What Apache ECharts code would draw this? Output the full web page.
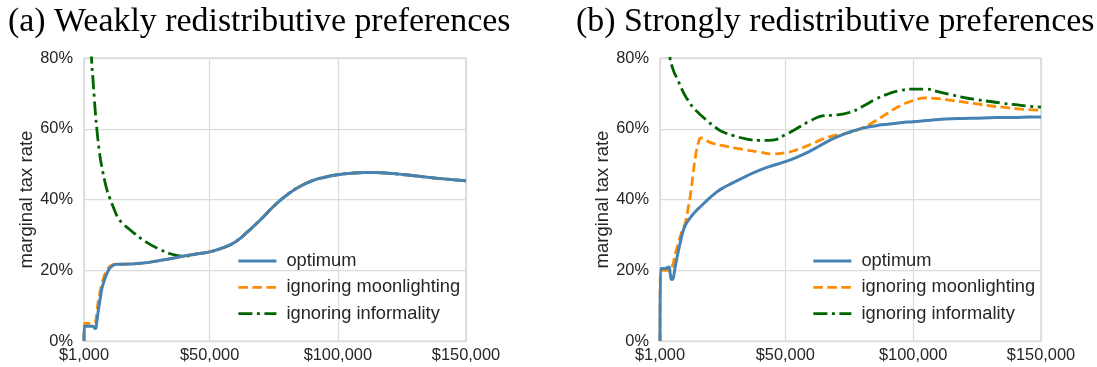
<!DOCTYPE html>
<html>
<head>
<meta charset="utf-8">
<script src="https://cdn.jsdelivr.net/npm/echarts@6/dist/echarts.min.js"></script>
<style>
html,body{margin:0;padding:0;background:#fff;}
#chart{width:1097px;height:367px;}
</style>
</head>
<body>
<div id="chart"></div>
<script>
// ---------- data ----------
const titles = ['(a) Weakly redistributive preferences', '(b) Strongly redistributive preferences'];
const seriesNames = ['optimum', 'ignoring moonlighting', 'ignoring informality'];
const xTickValues = [1000, 50000, 100000, 150000];
const yTickValues = [0, 20, 40, 60, 80];

// Panel (a)
const incomeA = [1000, 1200, 2000, 3000, 4000, 4500, 5000, 5500, 6000, 6500, 7000, 7500, 8000, 9000, 10000,
  11000, 12000, 13000, 14000, 16000, 18000, 20000, 25000, 30000, 35000, 40000, 45000, 50000, 55000, 60000,
  65000, 70000, 75000, 80000, 85000, 90000, 95000, 100000, 105000, 110000, 115000, 120000, 125000, 130000,
  135000, 140000, 145000, 150000];
const optimumA = [0, 4.2, 4.2, 4.2, 4.2, 4.2, 3.8, 3.5, 5.5, 8.2, 10.5, 12.8, 14.9, 17.3, 19.2,
  20.5, 21.2, 21.6, 21.7, 21.7, 21.75, 21.8, 22.1, 22.7, 23.3, 24.0, 24.6, 25.2, 26.3, 28.0,
  31.0, 34.4, 38.1, 41.2, 43.6, 45.3, 46.3, 47.0, 47.4, 47.6, 47.6, 47.4, 47.1, 46.7,
  46.3, 45.9, 45.6, 45.3];
const moonlightingA = [0, 5.0, 5.0, 5.0, 5.0, 5.0, 5.0, 5.5, 8.0, 11.0, 13.0, 14.8, 16.3, 18.6, 20.2,
  21.0, 21.5, 21.7, 21.7, 21.7, 21.75, 21.8, 22.1, 22.7, 23.3, 24.0, 24.6, 25.2, 26.3, 28.0,
  31.0, 34.4, 38.1, 41.2, 43.6, 45.3, 46.3, 47.0, 47.4, 47.6, 47.6, 47.4, 47.1, 46.7,
  46.3, 45.9, 45.6, 45.3];
const informalityA = [200, 180, 130, 96, 79, 74, 68.8, 64, 60, 56.5, 53.5, 51, 49, 45.5, 42.6,
  40.5, 38.6, 36.8, 35.2, 33.2, 32.0, 30.8, 28.1, 26.1, 24.6, 24.0, 24.6, 25.2, 26.3, 28.0,
  31.0, 34.4, 38.1, 41.2, 43.6, 45.3, 46.3, 47.0, 47.4, 47.6, 47.6, 47.4, 47.1, 46.7,
  46.3, 45.9, 45.6, 45.3];

// Panel (b)
const incomeB = [1000, 1200, 2000, 3000, 4000, 4500, 5000, 5500, 6000, 6500, 7000, 7500, 8000, 9000, 10000,
  11000, 12000, 13000, 14000, 15000, 16000, 17000, 18000, 20000, 22500, 25000, 30000, 35000, 40000, 45000,
  50000, 55000, 60000, 65000, 70000, 75000, 80000, 85000, 90000, 95000, 100000, 105000, 110000, 115000,
  120000, 125000, 130000, 135000, 140000, 145000, 150000];
const optimumB = [0, 20.5, 20.5, 20.5, 20.8, 20.9, 19.0, 17.4, 17.5, 19.0, 21.2, 23.0, 24.8, 28.1, 31.0,
  32.8, 34.0, 35.0, 35.9, 36.7, 37.4, 38.1, 38.8, 40.2, 41.7, 43.0, 44.9, 46.7, 48.3, 49.6,
  50.7, 52.1, 53.8, 55.8, 57.6, 59.0, 60.1, 60.8, 61.3, 61.7, 62.0, 62.3, 62.6, 62.8,
  62.9, 63.0, 63.1, 63.2, 63.2, 63.3, 63.3];
const moonlightingB = [0, 20, 20, 20, 20, 20, 20, 20.3, 21.5, 23.0, 24.7, 26.0, 27.3, 29.7, 31.8,
  33.6, 37.5, 41.8, 47.5, 52.7, 56.0, 57.4, 57.3, 56.3, 55.7, 55.3, 54.6, 54.0, 53.4, 52.9,
  53.2, 54.2, 55.6, 57.2, 58.2, 58.9, 60.2, 62.1, 64.4, 66.5, 68.0, 68.7, 68.5, 68.0,
  67.5, 67.0, 66.5, 66.1, 65.7, 65.4, 65.2];
const informalityB = [100, 98, 93, 88, 83.5, 81.5, 79.6, 78.2, 77.0, 76.0, 75.2, 74.5, 73.8, 72.0, 70.5,
  69.1, 68.0, 66.9, 66.0, 65.2, 64.5, 63.8, 63.2, 61.9, 60.5, 59.3, 58.0, 57.1, 56.7, 56.8,
  58.3, 60.3, 62.3, 63.7, 63.9, 64.6, 66.2, 68.2, 69.8, 70.8, 71.2, 71.2, 70.4, 69.6,
  68.8, 68.2, 67.7, 67.2, 66.8, 66.4, 66.1];

// ---------- chart ----------
const colors = {optimum: '#4682b4', moon: '#ff8c00', inform: '#006400'};
const tickFont = 'Liberation Sans, Arial, sans-serif';
const textColor = '#262626';
const gridColor = '#dcdcdc';

function pairs(xs, ys) { return xs.map((x, i) => [x, ys[i]]); }
function fmtMoney(v) { return '$' + Math.round(v).toLocaleString('en-US'); }

const panels = [
  {income: incomeA, opt: optimumA, moon: moonlightingA, inf: informalityA, left: 84, width: 382},
  {income: incomeB, opt: optimumB, moon: moonlightingB, inf: informalityB, left: 660, width: 381}
];

const option = {
  animation: false,
  backgroundColor: '#ffffff',
  grid: panels.map(p => ({
    left: p.left, top: 58, width: p.width, height: 283,
    show: true, borderColor: '#cccccc', borderWidth: 1.25, backgroundColor: 'transparent'
  })),
  xAxis: panels.map((p, i) => ({
    type: 'value', gridIndex: i, min: 1000, max: 150000,
    axisLine: {show: false},
    axisTick: {show: false, customValues: xTickValues},
    splitLine: {show: true, customValues: xTickValues, lineStyle: {color: gridColor, width: 1.25}},
    axisLabel: {
      customValues: xTickValues, formatter: fmtMoney, fontSize: 16.4, color: textColor,
      fontFamily: tickFont, margin: 6, showMinLabel: true, showMaxLabel: true, hideOverlap: false
    }
  })),
  yAxis: panels.map((p, i) => ({
    type: 'value', gridIndex: i, min: 0, max: 80, interval: 20,
    axisLine: {show: false}, axisTick: {show: false},
    splitLine: {show: true, lineStyle: {color: gridColor, width: 1.25}},
    axisLabel: {formatter: '{value}%', fontSize: 16.4, color: textColor, fontFamily: tickFont, margin: 11},
    name: 'marginal tax rate', nameLocation: 'middle', nameGap: 43,
    nameTextStyle: {fontSize: 18.5, color: textColor, fontFamily: tickFont}
  })),
  legend: panels.map((p, i) => ({
    orient: 'vertical', left: i === 0 ? 232 : 807, top: 247,
    itemWidth: 38, itemHeight: 14, itemGap: 8.3,
    data: seriesNames,
    itemStyle: {opacity: 0},
    lineStyle: {width: 2.8},
    textStyle: {fontSize: 18.3, color: textColor, fontFamily: tickFont, padding: [0, 0, 0, 5], lineHeight: 18}
  })),
  graphic: titles.map((t, i) => ({
    type: 'text', x: i === 0 ? 8 : 576, y: 22.5,
    style: {text: t, font: '33.9px "Liberation Serif", "Times New Roman", serif', fill: '#000000',
      verticalAlign: 'middle', align: 'left'}
  })),
  series: []
};

panels.forEach((p, i) => {
  const common = {type: 'line', xAxisIndex: i, yAxisIndex: i, symbol: 'none', smooth: 0.5, clip: true};
  option.series.push(Object.assign({}, common, {
    name: 'ignoring informality', data: pairs(p.income, p.inf), color: colors.inform,
    lineStyle: {color: colors.inform, width: 2.8, type: [14, 4.5, 3, 4.5]}, z: 2
  }));
  option.series.push(Object.assign({}, common, {
    name: 'ignoring moonlighting', data: pairs(p.income, p.moon), color: colors.moon,
    lineStyle: {color: colors.moon, width: 2.8, type: [9.5, 4.5]}, z: 3
  }));
  option.series.push(Object.assign({}, common, {
    name: 'optimum', data: pairs(p.income, p.opt), color: colors.optimum,
    lineStyle: {color: colors.optimum, width: 3}, z: 4
  }));
});

const chart = echarts.init(document.getElementById('chart'), null, {renderer: 'canvas'});
chart.setOption(option);
</script>
</body>
</html>
